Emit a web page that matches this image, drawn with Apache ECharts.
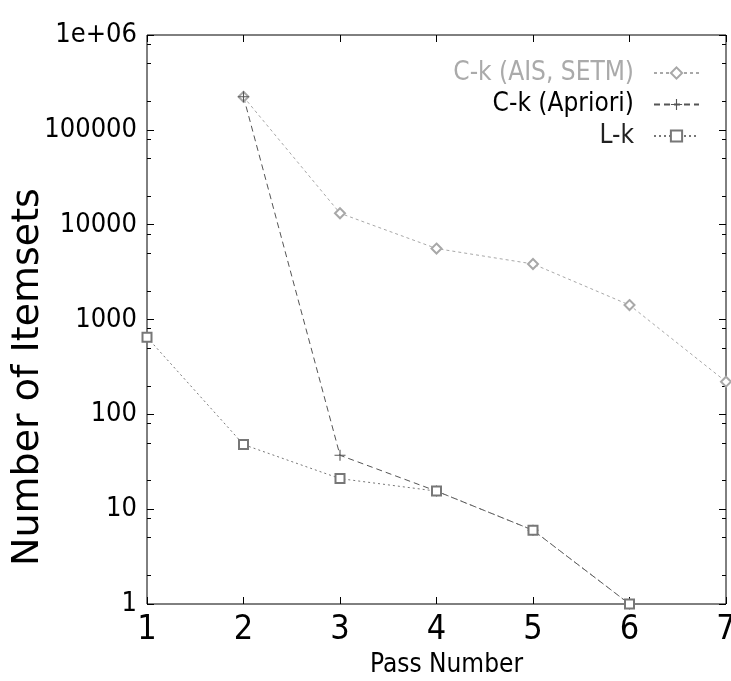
<!DOCTYPE html>
<html>
<head>
<meta charset="utf-8">
<script src="https://cdn.jsdelivr.net/npm/echarts@6/dist/echarts.min.js"></script>
<style>html,body{margin:0;padding:0;background:#fff}#c{width:731px;height:681px}</style>
</head>
<body>
<div id="c"></div>
<script>
// ---- data ----
var passes = [1, 2, 3, 4, 5, 6, 7];
var ckAIS = [null, 223000, 13200, 5600, 3850, 1420, 221];
var ckApriori = [null, 223000, 37, 15.5, 6, 1, null];
var lk = [650, 48, 21, 15.5, 6, 1, null];
var seriesNames = ['C-k (AIS, SETM)', 'C-k (Apriori)', 'L-k'];
var yMinorTicks = [2, 5, 8, 20, 50, 80, 200, 500, 800, 2000, 5000, 8000, 20000, 50000, 80000, 200000, 500000, 800000];

function pairs(vals) {
  var out = [];
  for (var i = 0; i < passes.length; i++) if (vals[i] != null) out.push([passes[i], vals[i]]);
  return out;
}

var NARROW = "'Liberation Sans Narrow', 'DejaVu Sans Condensed', 'Liberation Sans', sans-serif";
var plusPath = 'path://M4.5,0H5.5V4.5H10V5.5H5.5V10H4.5V5.5H0V4.5H4.5Z';

var chart = echarts.init(document.getElementById('c'), null, {renderer: 'canvas'});

function yAx(pos, opts) {
  return Object.assign({
    type: 'log', logBase: 10, min: 1, max: 1000000, interval: 1,
    position: pos,
    axisLine: {show: false},
    splitLine: {show: false},
    axisTick: {show: true, inside: true, length: 7, lineStyle: {color: '#000', width: 1}},
    axisLabel: {show: false}
  }, opts || {});
}

var option = {
  backgroundColor: '#fff',
  animation: false,
  grid: {left: 147, right: 5, top: 35, bottom: 77, containLabel: false, outerBoundsMode: 'none',
    show: true, borderColor: '#000', borderWidth: 1, backgroundColor: 'transparent'},
  legend: {
    orient: 'vertical', right: 26, top: 53, align: 'right',
    itemWidth: 45, itemHeight: 14, itemGap: 1.5,
    textStyle: {fontFamily: NARROW, fontSize: 26, lineHeight: 30, padding: [0, 15, 0, 0]},
    data: [
      {name: seriesNames[0], textStyle: {color: '#aaaaaa'}},
      {name: seriesNames[1], textStyle: {color: '#000'}},
      {name: seriesNames[2], textStyle: {color: '#222'}}
    ]
  },
  xAxis: [
    {
      type: 'value', min: 1, max: 7, interval: 1, position: 'bottom',
      name: 'Pass Number', nameLocation: 'middle', nameGap: 48, nameMoveOverlap: false,
      nameTextStyle: {fontFamily: NARROW, fontSize: 26, color: '#000', padding: [0, 0, 0, 20]},
      axisLine: {show: false}, splitLine: {show: false},
      axisTick: {show: true, inside: true, length: 7, lineStyle: {color: '#000'}},
      axisLabel: {fontFamily: NARROW, fontSize: 34, color: '#000', margin: 9}
    },
    {
      type: 'value', min: 1, max: 7, interval: 1, position: 'top',
      axisLine: {show: false}, splitLine: {show: false},
      axisTick: {show: true, inside: true, length: 7, lineStyle: {color: '#000'}},
      axisLabel: {show: false}
    }
  ],
  yAxis: [
    yAx('left', {
      name: 'Number of Itemsets', nameLocation: 'middle', nameGap: 100, nameRotate: 90, nameMoveOverlap: false,
      nameTextStyle: {fontFamily: "'DejaVu Sans', sans-serif", fontSize: 38, color: '#000', padding: [0, 115, 0, 0]},
      axisLabel: {show: true, fontFamily: NARROW, fontSize: 27, color: '#000', margin: 10,
        formatter: function (v) { v = Math.round(v); return v >= 1000000 ? '1e+06' : String(v); }}
    }),
    yAx('right'),
    yAx('left', {axisTick: {show: true, inside: true, length: 4, customValues: yMinorTicks, lineStyle: {color: '#000'}}}),
    yAx('right', {axisTick: {show: true, inside: true, length: 4, customValues: yMinorTicks, lineStyle: {color: '#000'}}})
  ],
  series: [
    {
      name: seriesNames[0], type: 'line', data: pairs(ckAIS),
      symbol: 'emptyDiamond', symbolSize: 10,
      lineStyle: {color: '#a8a8a8', width: 1, type: [3, 3]},
      itemStyle: {color: '#a8a8a8', borderColor: '#a8a8a8', borderWidth: 1}
    },
    {
      name: seriesNames[1], type: 'line', data: pairs(ckApriori),
      symbol: plusPath, symbolSize: 11,
      lineStyle: {color: '#555', width: 1, type: [6, 4]},
      itemStyle: {color: '#555'}
    },
    {
      name: seriesNames[2], type: 'line', data: pairs(lk),
      symbol: 'emptyRect', symbolSize: 9,
      lineStyle: {color: '#777', width: 1, type: [2, 3]},
      itemStyle: {color: '#777', borderColor: '#777', borderWidth: 1}
    }
  ]
};
chart.setOption(option);
</script>
</body>
</html>
